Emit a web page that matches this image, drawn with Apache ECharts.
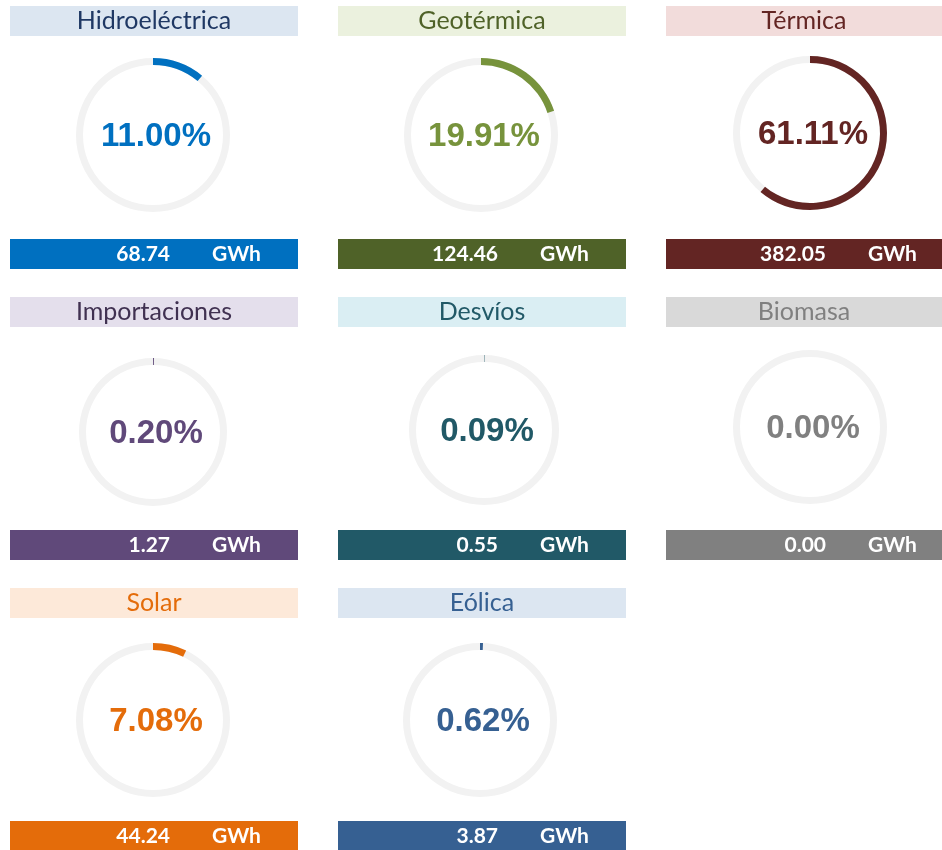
<!DOCTYPE html>
<html>
<head>
<meta charset="utf-8">
<script src="https://cdn.jsdelivr.net/npm/echarts@6/dist/echarts.min.js"></script>
<style>
  html, body { margin: 0; padding: 0; background: #fff; }
  #main { width: 942px; height: 850px; }
</style>
</head>
<body>
<div id="main"></div>
<script>
// datos
const categories = ['Hidroeléctrica', 'Geotérmica', 'Térmica', 'Importaciones', 'Desvíos', 'Biomasa', 'Solar', 'Eólica']
const percentValues = [11.00, 19.91, 61.11, 0.20, 0.09, 0.00, 7.08, 0.62]
const energyGWh = [68.74, 124.46, 382.05, 1.27, 0.55, 0.00, 44.24, 3.87]
const unitLabel = 'GWh'

// estilos por tarjeta
const mainColors = ['#0070C0', '#77933C', '#632523', '#60497A', '#215967', '#808080', '#E46C0A', '#366092']
const barColors = ['#0070C0', '#4F6228', '#632523', '#60497A', '#215967', '#808080', '#E46C0A', '#366092']
const titleBg = ['#DCE6F1', '#EBF1DE', '#F2DCDB', '#E4DFEC', '#DAEEF3', '#D9D9D9', '#FDE9D9', '#DCE6F1']
const titleColor = ['#1F3864', '#4F6228', '#632523', '#403151', '#215967', '#808080', '#E46C0A', '#366092']

// layout
const colLeft = [10, 338, 666]
const colWidth = [288, 288, 276]
const titleTop = [6, 297, 588]
const barTop = [239, 530, 821]
const centers = [[153, 135], [481, 135], [810, 133], [153, 432], [484, 430], [810, 427], [153, 720], [480, 720]]
const radii = [77, 77, 77, 74, 75, 77, 77, 77]

let chart = echarts.init(document.getElementById('main'))

let series = []
let graphic = []

categories.forEach((name, i) => {
  let col = i % 3
  let row = Math.floor(i / 3)
  let x = colLeft[col]
  let w = colWidth[col]

  // barra de título
  graphic.push({
    type: 'rect',
    shape: { x: x, y: titleTop[row], width: w, height: 30 },
    style: { fill: titleBg[i] }
  })
  graphic.push({
    type: 'text',
    x: x + w / 2,
    y: titleTop[row] + 15,
    style: {
      text: name,
      fill: titleColor[i],
      font: '25px Lato',
      align: 'center',
      verticalAlign: 'middle'
    }
  })

  // barra inferior
  graphic.push({
    type: 'rect',
    shape: { x: x, y: barTop[row], width: w, height: 30 },
    style: { fill: barColors[i] }
  })
  graphic.push({
    type: 'text',
    x: x + 160,
    y: barTop[row] + 15,
    style: {
      text: energyGWh[i].toFixed(2),
      fill: '#fff',
      font: 'bold 21px Lato',
      align: 'right',
      verticalAlign: 'middle'
    }
  })
  graphic.push({
    type: 'text',
    x: x + 202,
    y: barTop[row] + 15,
    style: {
      text: unitLabel,
      fill: '#fff',
      font: 'bold 21px Lato',
      align: 'left',
      verticalAlign: 'middle'
    }
  })

  series.push({
    type: 'gauge',
    center: centers[i],
    radius: radii[i],
    startAngle: 90,
    endAngle: -270,
    min: 0,
    max: 100,
    pointer: { show: false },
    progress: {
      show: true,
      width: 7,
      roundCap: false,
      itemStyle: { color: mainColors[i] }
    },
    axisLine: {
      lineStyle: { width: 7, color: [[1, '#F2F2F2']] }
    },
    axisTick: { show: false },
    splitLine: { show: false },
    axisLabel: { show: false },
    title: { show: false },
    detail: {
      offsetCenter: [3, 2],
      fontSize: 33,
      fontWeight: 'bold',
      fontFamily: 'Liberation Sans',
      color: mainColors[i],
      formatter: (v) => v.toFixed(2) + '%'
    },
    animation: false,
    data: [{ value: percentValues[i], name: name }]
  })
})

chart.setOption({
  animation: false,
  graphic: graphic,
  series: series
})
</script>
</body>
</html>
